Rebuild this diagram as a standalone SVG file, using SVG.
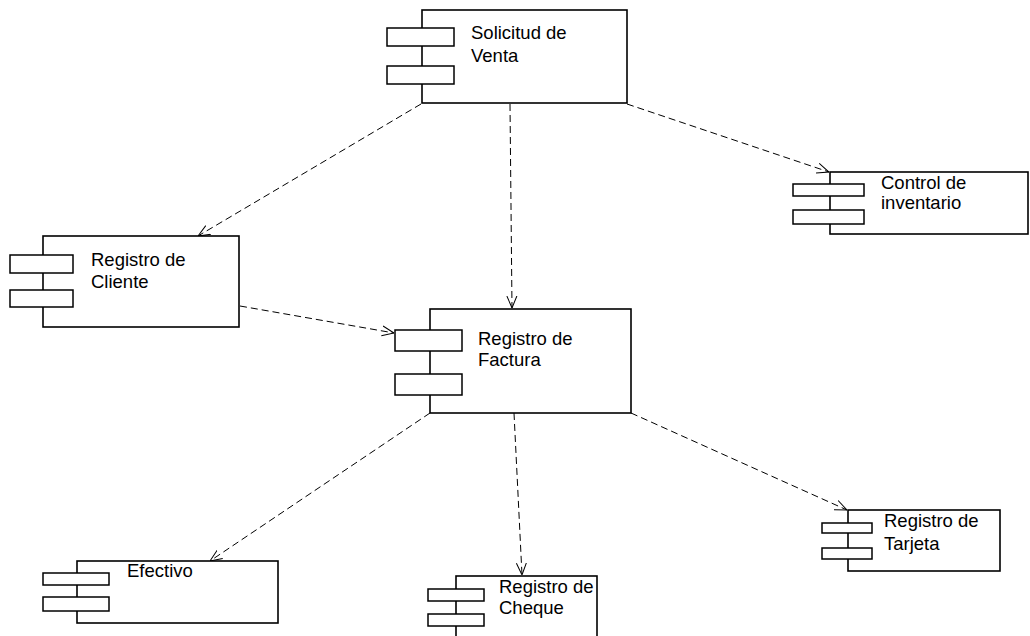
<svg xmlns="http://www.w3.org/2000/svg" width="1030" height="636" viewBox="0 0 1030 636">
<style>
.box{fill:#fff;stroke:#000;stroke-width:1.6}
.port{fill:#fff;stroke:#000;stroke-width:1.5}
.lbl{font-family:"Liberation Sans",Arial,sans-serif;font-size:18.5px;fill:#000}
.dep{fill:none;stroke:#000;stroke-width:1;stroke-dasharray:7 4}
</style>
<defs>
<marker id="arr" viewBox="0 0 12 12" refX="12" refY="6" markerWidth="12" markerHeight="12" markerUnits="userSpaceOnUse" orient="auto">
<path d="M0,1 L12,6 L0,11" fill="none" stroke="#000" stroke-width="1"/>
</marker>
</defs>
<rect width="1030" height="636" fill="#fff"/>
<g id="connectors">
<line class="dep" x1="421" y1="104" x2="198" y2="236" marker-end="url(#arr)"/>
<line class="dep" x1="627" y1="104" x2="829" y2="172" marker-end="url(#arr)"/>
<line class="dep" x1="510" y1="104" x2="512" y2="308" marker-end="url(#arr)"/>
<line class="dep" x1="240" y1="306" x2="394" y2="333" marker-end="url(#arr)"/>
<line class="dep" x1="430" y1="413" x2="210" y2="561" marker-end="url(#arr)"/>
<line class="dep" x1="514" y1="413" x2="522" y2="575" marker-end="url(#arr)"/>
<line class="dep" x1="631" y1="413" x2="847" y2="510" marker-end="url(#arr)"/>
</g>
<g id="solicitud">
<rect class="box" x="422" y="10" width="205" height="93"/>
<rect class="port" x="387" y="28" width="67" height="18"/>
<rect class="port" x="387" y="66" width="67" height="18"/>
<text class="lbl" x="471" y="39">Solicitud de</text>
<text class="lbl" x="471" y="62">Venta</text>
</g>
<g id="control">
<rect class="box" x="830" y="172" width="198" height="62"/>
<rect class="port" x="793" y="184" width="71" height="12"/>
<rect class="port" x="793" y="210" width="71" height="14"/>
<text class="lbl" x="881" y="189">Control de</text>
<text class="lbl" x="881" y="209">inventario</text>
</g>
<g id="cliente">
<rect class="box" x="43" y="236" width="196" height="91"/>
<rect class="port" x="10" y="255" width="63" height="18"/>
<rect class="port" x="10" y="290" width="63" height="17"/>
<text class="lbl" x="91" y="266">Registro de</text>
<text class="lbl" x="91" y="288">Cliente</text>
</g>
<g id="factura">
<rect class="box" x="430" y="309" width="201" height="104"/>
<rect class="port" x="395" y="330" width="67" height="21"/>
<rect class="port" x="395" y="374" width="67" height="21"/>
<text class="lbl" x="478" y="345">Registro de</text>
<text class="lbl" x="478" y="366">Factura</text>
</g>
<g id="efectivo">
<rect class="box" x="77" y="561" width="201" height="62"/>
<rect class="port" x="43" y="573" width="66" height="12"/>
<rect class="port" x="43" y="597" width="66" height="14"/>
<text class="lbl" x="127" y="577">Efectivo</text>
</g>
<g id="cheque">
<rect class="box" x="456" y="576" width="141" height="70"/>
<rect class="port" x="428" y="589" width="56" height="12"/>
<rect class="port" x="428" y="614" width="56" height="12"/>
<text class="lbl" x="499" y="593">Registro de</text>
<text class="lbl" x="499" y="614">Cheque</text>
</g>
<g id="tarjeta">
<rect class="box" x="848" y="510" width="152" height="61"/>
<rect class="port" x="822" y="523" width="50" height="10"/>
<rect class="port" x="822" y="548" width="50" height="11"/>
<text class="lbl" x="884" y="527">Registro de</text>
<text class="lbl" x="884" y="550">Tarjeta</text>
</g>
</svg>
